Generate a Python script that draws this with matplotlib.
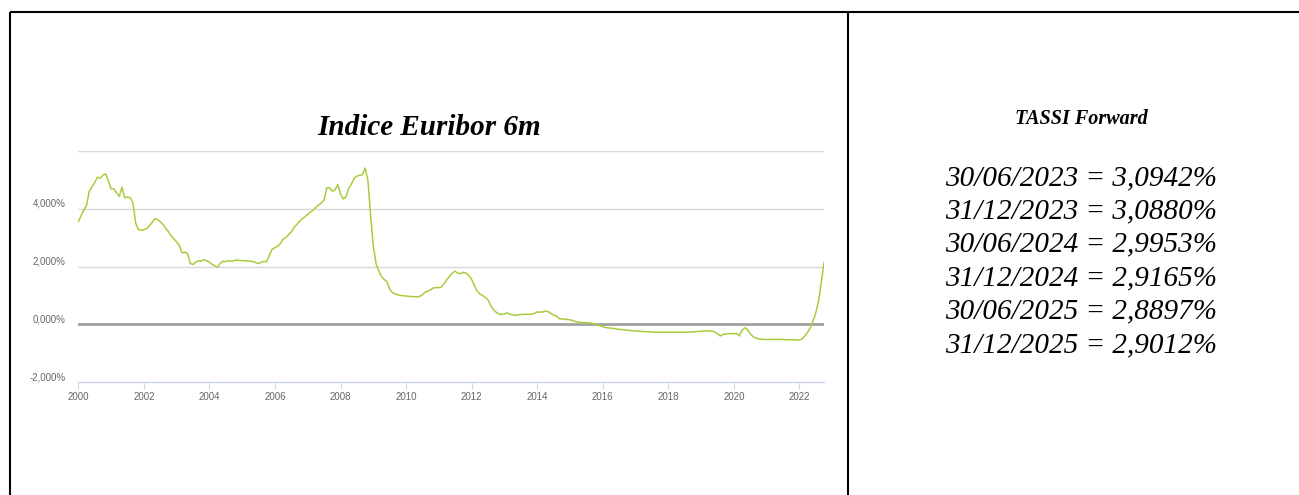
import numpy as np
import matplotlib
matplotlib.use("Agg")
from matplotlib import pyplot as plt
from matplotlib.lines import Line2D

# Euribor 6m, monthly values (%), Jan 2000 .. Oct 2022
y2000 = [3.55, 3.75, 3.95, 4.10, 4.60, 4.75, 4.90, 5.08, 5.05, 5.15, 5.20, 4.95]
y2001 = [4.68, 4.68, 4.55, 4.42, 4.74, 4.37, 4.40, 4.38, 4.20, 3.50, 3.28, 3.25]
y2002 = [3.28, 3.30, 3.40, 3.52, 3.65, 3.62, 3.55, 3.45, 3.32, 3.20, 3.05, 2.95]
y2003 = [2.85, 2.72, 2.47, 2.50, 2.45, 2.10, 2.07, 2.15, 2.20, 2.18, 2.24, 2.20]
y2004 = [2.15, 2.07, 2.02, 1.97, 2.12, 2.18, 2.17, 2.20, 2.18, 2.20, 2.22, 2.21]
y2005 = [2.20, 2.19, 2.20, 2.18, 2.17, 2.13, 2.10, 2.15, 2.17, 2.17, 2.40, 2.60]
y2006 = [2.65, 2.70, 2.80, 2.95, 3.00, 3.10, 3.20, 3.35, 3.45, 3.56, 3.65, 3.72]
y2007 = [3.80, 3.88, 3.95, 4.05, 4.12, 4.20, 4.30, 4.72, 4.72, 4.60, 4.65, 4.83]
y2008 = [4.50, 4.33, 4.40, 4.70, 4.85, 5.05, 5.12, 5.15, 5.17, 5.40, 5.00, 3.80]
y2009 = [2.70, 2.10, 1.85, 1.65, 1.55, 1.48, 1.21, 1.10, 1.05, 1.02, 1.00, 0.99]
y2010 = [0.98, 0.97, 0.96, 0.96, 0.95, 0.97, 1.02, 1.12, 1.15, 1.20, 1.26, 1.27]
y2011 = [1.27, 1.30, 1.42, 1.55, 1.68, 1.78, 1.84, 1.76, 1.76, 1.80, 1.77, 1.69]
y2012 = [1.55, 1.35, 1.15, 1.05, 1.00, 0.93, 0.85, 0.65, 0.50, 0.42, 0.36, 0.34]
y2013 = [0.36, 0.40, 0.35, 0.33, 0.31, 0.33, 0.34, 0.35, 0.35, 0.35, 0.35, 0.38]
y2014 = [0.43, 0.42, 0.43, 0.46, 0.44, 0.38, 0.32, 0.30, 0.20, 0.19, 0.18, 0.17]
y2015 = [0.16, 0.13, 0.10, 0.08, 0.07, 0.06, 0.06, 0.05, 0.04, 0.02, -0.02, -0.05]
y2016 = [-0.08, -0.11, -0.12, -0.13, -0.14, -0.16, -0.17, -0.18, -0.19, -0.20, -0.21, -0.22]
y2017 = [-0.23, -0.23, -0.24, -0.25, -0.25, -0.26, -0.26, -0.27, -0.27, -0.27, -0.27, -0.27]
y2018 = [-0.27, -0.27, -0.27, -0.27, -0.27, -0.27, -0.27, -0.27, -0.26, -0.26, -0.25, -0.24]
y2019 = [-0.24, -0.23, -0.23, -0.23, -0.23, -0.26, -0.32, -0.40, -0.35, -0.33, -0.32, -0.32]
y2020 = [-0.32, -0.31, -0.40, -0.20, -0.11, -0.18, -0.32, -0.42, -0.47, -0.50, -0.51, -0.52]
y2021 = [-0.52, -0.52, -0.52, -0.52, -0.52, -0.52, -0.52, -0.53, -0.53, -0.53, -0.53, -0.54]
y2022 = [-0.54, -0.50, -0.40, -0.27, -0.12, 0.12, 0.40, 0.80, 1.45, 2.13]

euribor = (y2000 + y2001 + y2002 + y2003 + y2004 + y2005 + y2006 + y2007 + y2008
           + y2009 + y2010 + y2011 + y2012 + y2013 + y2014 + y2015 + y2016 + y2017
           + y2018 + y2019 + y2020 + y2021 + y2022)
anni = 2000 + np.arange(len(euribor)) / 12.0

y_ticks = [-2, 0, 2, 4, 6]
y_labels = ["-2,000%", "0,000%", "2,000%", "4,000%", ""]
x_ticks = list(range(2000, 2023, 2))

titolo = "Indice Euribor 6m"
titolo_dx = "TASSI Forward"
forward_date = ["30/06/2023", "31/12/2023", "30/06/2024", "31/12/2024", "30/06/2025", "31/12/2025"]
forward_tassi = ["3,0942%", "3,0880%", "2,9953%", "2,9165%", "2,8897%", "2,9012%"]

W, H = 1299, 495
fig = plt.figure(figsize=(W / 100, H / 100), dpi=100)

def fx(px):
    return px / W

def fy(py):
    return 1 - py / H

# chart area
ax = fig.add_axes([fx(78.3), fy(382.3), fx(824) - fx(78.3), fy(150.7) - fy(382.3)])
ax.axhline(0, color="#a0a0a0", lw=2.0, zorder=1)
for v in [2, 4, 6]:
    ax.axhline(v, color="#d8d8d8", lw=1.0, zorder=0)
ax.plot(anni, euribor, color="#a8cd3c", lw=1.1, zorder=2)
ax.set_xlim(anni[0], anni[-1])
ax.set_ylim(-2, 6)
ax.set_yticks(y_ticks)
ax.set_yticklabels(y_labels)
ax.set_xticks(x_ticks)
ax.set_xticklabels([str(t) for t in x_ticks])
for s in ["top", "right", "left"]:
    ax.spines[s].set_visible(False)
ax.spines["bottom"].set_color("#ccd6eb")
ax.spines["bottom"].set_linewidth(1.0)
ax.tick_params(axis="y", length=0, pad=9, labelsize=7, labelcolor="#666666")
ax.tick_params(axis="x", length=5, color="#ccd6eb", pad=2, labelsize=7, labelcolor="#666666")
for lab in ax.get_xticklabels() + ax.get_yticklabels():
    lab.set_family("Liberation Sans")
for lab in ax.get_yticklabels():
    lab.set_verticalalignment("bottom")

fig.text(fx(429), fy(135), titolo, ha="center", va="baseline", family="Liberation Serif",
         style="italic", weight="bold", fontsize=21)

# right cell
fig.text(fx(1081), fy(124), titolo_dx, ha="center", va="baseline", family="Liberation Serif",
         style="italic", weight="bold", fontsize=14.5)
for i, (d, t) in enumerate(zip(forward_date, forward_tassi)):
    fig.text(fx(1081), fy(185 + i * 33.4), d + " = " + t, ha="center", va="baseline",
             family="Liberation Serif", style="italic", fontsize=21)

# table borders
bordi = [((10, 1299), (12, 12)), ((10, 10), (12, 495)), ((848.3, 848.3), (12, 495))]
for xs, ys in bordi:
    fig.add_artist(Line2D([fx(xs[0]), fx(xs[1])], [fy(ys[0]), fy(ys[1])], color="black",
                          lw=1.5, transform=fig.transFigure, solid_capstyle="butt"))

fig.savefig("out.png", dpi=100)
